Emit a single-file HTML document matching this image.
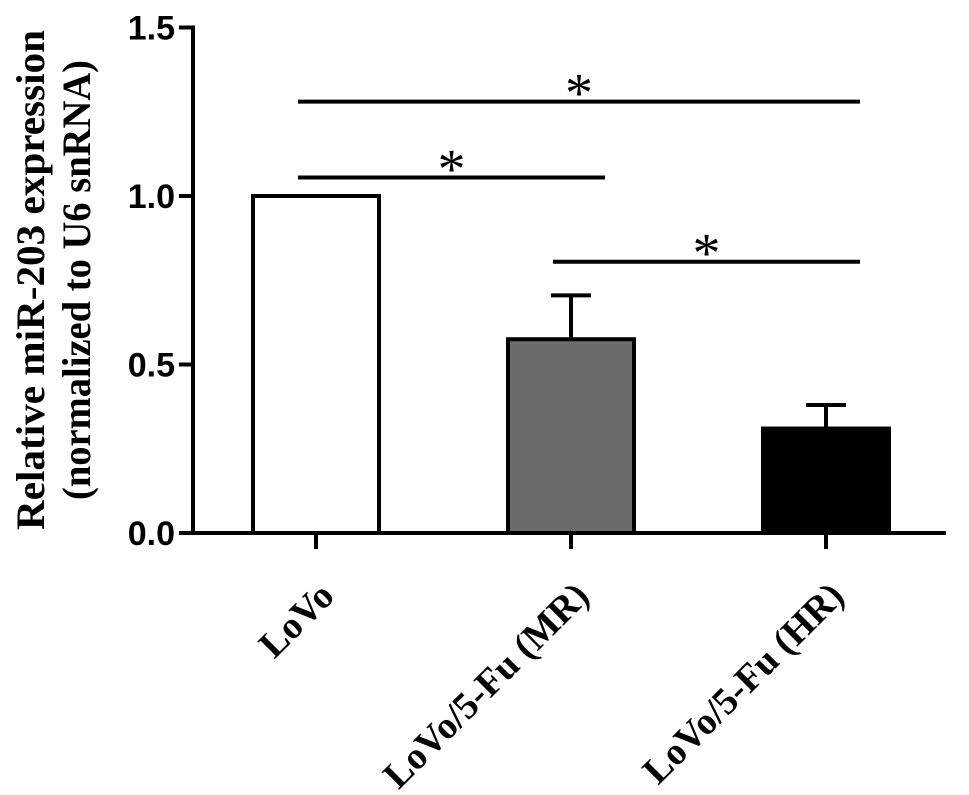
<!DOCTYPE html>
<html><head><meta charset="utf-8"><style>
html,body{margin:0;padding:0;background:#fff;}
svg{display:block;}
</style></head><body>
<svg id="chart" width="969" height="795" xmlns="http://www.w3.org/2000/svg">
<g font-family="Liberation Serif, serif" font-weight="bold" font-size="40" text-anchor="middle">
<text transform="translate(44,280) rotate(-90)" textLength="500" lengthAdjust="spacingAndGlyphs">Relative miR-203 expression</text>
<text transform="translate(90,280) rotate(-90)" textLength="440" lengthAdjust="spacingAndGlyphs">(normalized to U6 snRNA)</text>
</g>
<g id="plot"></g>
</svg>
<script>
const categories = ["LoVo", "LoVo/5-Fu (MR)", "LoVo/5-Fu (HR)"];
const values = [1.0, 0.575, 0.31];
const errors = [0, 0.13, 0.07];
const fills = ["#ffffff", "#6b6b6b", "#000000"];
const yTicks = [0, 0.5, 1.0, 1.5];
const yTickLabels = ["0.0", "0.5", "1.0", "1.5"];
const sigPairs = [[0, 2, 1.28], [0, 1, 1.055], [1, 2, 0.805]];

const NS = "http://www.w3.org/2000/svg";
const g = document.getElementById("plot");
const x0 = 193, y0 = 533, pxPerUnit = 337;
const y = v => y0 - v * pxPerUnit;
const xc = i => 316 + i * 255;
const bw = 126;
function el(tag, attrs, parent) {
  const e = document.createElementNS(NS, tag);
  for (const k in attrs) e.setAttribute(k, attrs[k]);
  (parent || g).appendChild(e);
  return e;
}
categories.forEach((c, i) => {
  const top = y(values[i]);
  if (errors[i] > 0) {
    const eb = el("path", {d: `M${xc(i)},${top} V${y(values[i] + errors[i])} M${xc(i) - 20},${y(values[i] + errors[i])} H${xc(i) + 20}`, stroke: "#000", "stroke-width": 4, fill: "none"});
    
    
  }
  const r = el("rect", {x: xc(i) - bw / 2, y: top, width: bw, height: y0 - top, fill: fills[i], stroke: "#000", "stroke-width": 4});
  
  
  const t = el("line", {x1: xc(i), x2: xc(i), y1: y0, y2: y0 + 16, stroke: "#000", "stroke-width": 4});
  
  
  const lab = el("text", {transform: `translate(${xc(i) + 20},598) rotate(-45)`, "text-anchor": "end", "font-family": "Liberation Serif, serif", "font-weight": "bold", "font-size": 38});
  lab.textContent = c;
  
  
});
const ya = el("line", {x1: x0, x2: x0, y1: y(1.5) - 2, y2: y0 + 2, stroke: "#000", "stroke-width": 4});


const xa = el("line", {x1: x0 - 2, x2: 946, y1: y0, y2: y0, stroke: "#000", "stroke-width": 4});


yTicks.forEach((v, i) => {
  const t = el("line", {x1: x0 - 14, x2: x0, y1: y(v), y2: y(v), stroke: "#000", "stroke-width": 4});
  
  
  const l = el("text", {x: x0 - 18, y: y(v) + 12, "text-anchor": "end", "font-family": "Liberation Sans, sans-serif", "font-weight": "bold", "font-size": 34});
  l.textContent = yTickLabels[i];
  
  
});
sigPairs.forEach(p => {
  const x1 = xc(p[0]) - 18, x2 = xc(p[1]) + 34, yy = y(p[2]);
  const ln = el("line", {x1: x1, x2: x2, y1: yy, y2: yy, stroke: "#000", "stroke-width": 4});
  
  
  const s = el("text", {x: (x1 + x2) / 2, y: yy + 10, "text-anchor": "middle", "font-family": "Liberation Serif, serif", "font-weight": "normal", "font-size": 56});
  s.textContent = "*";
  
  
});
</script>
</body></html>
